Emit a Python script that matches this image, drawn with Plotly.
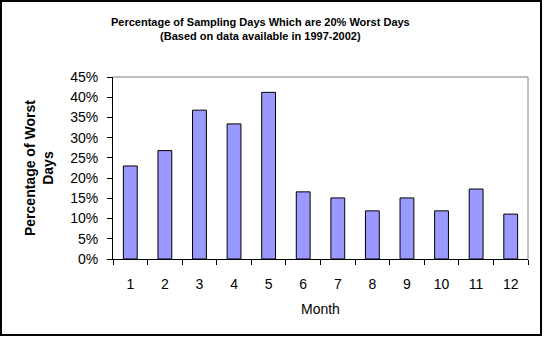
import plotly.graph_objects as go

months = ["1", "2", "3", "4", "5", "6", "7", "8", "9", "10", "11", "12"]
worst_pct = [0.230, 0.268, 0.368, 0.334, 0.412, 0.166, 0.151, 0.119, 0.151, 0.119, 0.173, 0.111]

W, H = 544, 338
L, R, T, B = 113, 528, 77, 259
pw, ph = R - L, B - T

def px(x):
    return (x - L) / pw

def py(y):
    return (B - y) / ph

font = "Liberation Sans, Arial, sans-serif"

fig = go.Figure(go.Bar(
    x=months, y=worst_pct,
    marker=dict(color="#9999FF", line=dict(color="#000000", width=1)),
    width=0.4,
))

fig.update_layout(
    width=W, height=H,
    margin=dict(l=L, r=W - R, t=T, b=H - B),
    paper_bgcolor="white", plot_bgcolor="white",
    showlegend=False,
    font=dict(family=font, color="black", size=14),
    xaxis=dict(
        type="category", showgrid=False, showline=True, linecolor="black", linewidth=1,
        ticks="outside", ticklen=5, tickcolor="black", tickson="boundaries",
        ticklabelstandoff=12, mirror=False,
        tickfont=dict(size=14, family=font),
    ),
    yaxis=dict(
        range=[0, 0.45], dtick=0.05, tickformat=".0%", showgrid=False,
        showline=True, linecolor="black", linewidth=1,
        ticks="outside", ticklen=5, tickcolor="black", ticklabelstandoff=6,
        tickfont=dict(size=14, family=font), zeroline=False,
    ),
    shapes=[
        # plot area frame (gray top/right)
        dict(type="line", xref="paper", yref="paper", x0=0, x1=1, y0=1, y1=1,
             line=dict(color="#808080", width=1)),
        dict(type="line", xref="paper", yref="paper", x0=1, x1=1, y0=0, y1=1,
             line=dict(color="#808080", width=1)),
        # outer chart border
        dict(type="rect", xref="paper", yref="paper",
             x0=px(1), x1=px(541), y0=py(335), y1=py(1),
             line=dict(color="black", width=2), layer="above"),
    ],
    annotations=[
        dict(text="<b>Percentage of Sampling Days Which are 20% Worst Days</b><br><b>(Based on data available in 1997-2002)</b>",
             xref="paper", yref="paper", x=px(260), y=py(29), showarrow=False,
             xanchor="center", yanchor="middle", font=dict(size=11, family=font)),
        dict(text="<b>Percentage of Worst</b><br><b>Days</b>",
             xref="paper", yref="paper", x=px(39), y=0.5, showarrow=False, textangle=-90,
             xanchor="center", yanchor="middle", font=dict(size=14, family=font)),
        dict(text="Month", xref="paper", yref="paper", x=0.5, y=py(309), showarrow=False,
             xanchor="center", yanchor="middle", font=dict(size=14, family=font)),
    ],
)

fig.write_html("out.html")
